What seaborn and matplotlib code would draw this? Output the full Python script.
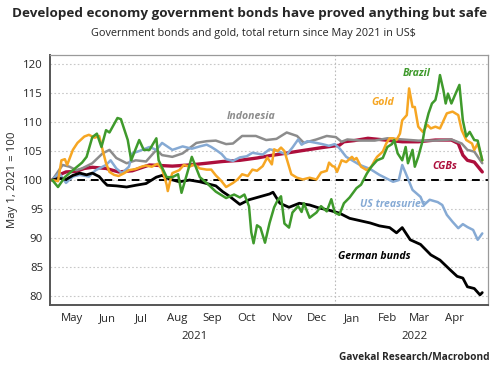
import pandas as pd
import matplotlib
matplotlib.use("Agg")
import matplotlib.pyplot as plt
import matplotlib.dates as mdates
import matplotlib.transforms as mtransforms
import seaborn as sns

# === Data (total return index, May 1 2021 = 100) ===
cgb_dates = ["2021-04-29", "2021-05-05", "2021-05-11", "2021-05-20", "2021-05-27", "2021-06-03",
             "2021-06-15", "2021-06-26", "2021-07-08", "2021-07-23", "2021-08-12", "2021-08-27",
             "2021-09-11", "2021-09-25", "2021-10-10", "2021-10-25", "2021-11-05", "2021-11-12",
             "2021-12-01", "2021-12-21", "2022-01-05", "2022-01-09", "2022-01-18", "2022-01-30",
             "2022-02-14", "2022-03-01", "2022-03-15", "2022-03-30", "2022-04-13", "2022-04-19",
             "2022-04-23", "2022-04-27", "2022-05-03", "2022-05-10"]
cgb_vals = [100, 100.9, 101.4, 101.5, 102.0, 102.2, 102.0, 101.4, 101.6, 102.6, 102.4, 102.6,
            102.9, 103.2, 103.4, 103.8, 104.2, 104.4, 105.0, 105.6, 106.0, 106.6, 106.8, 107.2,
            106.9, 106.6, 106.6, 106.9, 106.9, 106.3, 104.3, 103.4, 103.1, 101.4]

indo_dates = ["2021-04-29", "2021-05-08", "2021-05-14", "2021-05-20", "2021-05-25", "2021-06-03",
              "2021-06-12", "2021-06-18", "2021-06-24", "2021-07-03", "2021-07-11", "2021-07-20",
              "2021-07-29", "2021-08-03", "2021-08-12", "2021-08-21", "2021-08-27", "2021-09-02",
              "2021-09-11", "2021-09-19", "2021-09-28", "2021-10-04", "2021-10-12", "2021-10-24",
              "2021-11-02", "2021-11-11", "2021-11-20", "2021-11-29", "2021-12-05", "2021-12-16",
              "2021-12-25", "2022-01-02", "2022-01-07", "2022-01-12", "2022-01-24", "2022-02-05",
              "2022-02-16", "2022-03-01", "2022-03-15", "2022-03-30", "2022-04-13", "2022-04-22",
              "2022-04-27", "2022-05-03", "2022-05-10"]
indo_vals = [100, 102.6, 102.3, 101.7, 102.0, 102.9, 104.6, 105.2, 103.8, 102.9, 103.4, 103.2,
             105.2, 104.3, 104.0, 104.6, 105.5, 106.4, 106.7, 106.8, 106.2, 106.3, 107.6, 107.6,
             106.9, 107.1, 108.2, 107.6, 106.4, 107.0, 107.6, 107.4, 106.6, 107.0, 106.8, 106.8,
             107.2, 107.0, 106.8, 106.8, 107.0, 106.3, 105.2, 104.9, 102.9]

ust_dates = ["2021-04-29", "2021-05-05", "2021-05-11", "2021-05-17", "2021-05-23", "2021-05-31",
             "2021-06-06", "2021-06-15", "2021-06-19", "2021-06-24", "2021-06-29", "2021-07-05",
             "2021-07-08", "2021-07-14", "2021-07-23", "2021-07-29", "2021-08-03", "2021-08-12",
             "2021-08-21", "2021-08-29", "2021-09-05", "2021-09-11", "2021-09-15", "2021-09-19",
             "2021-09-24", "2021-09-28", "2021-10-04", "2021-10-10", "2021-10-16", "2021-10-21",
             "2021-10-30", "2021-11-05", "2021-11-12", "2021-11-20", "2021-11-25", "2021-11-30",
             "2021-12-03", "2021-12-08", "2021-12-16", "2021-12-21", "2021-12-27", "2022-01-01",
             "2022-01-05", "2022-01-11", "2022-01-23", "2022-02-01", "2022-02-09", "2022-02-21",
             "2022-02-26", "2022-03-01", "2022-03-04", "2022-03-10", "2022-03-17", "2022-03-20",
             "2022-03-25", "2022-04-01", "2022-04-05", "2022-04-09", "2022-04-14", "2022-04-19",
             "2022-04-23", "2022-04-27", "2022-05-02", "2022-05-06", "2022-05-10"]
ust_vals = [100, 101.2, 99.5, 100.6, 100.9, 100.6, 101.7, 102.6, 103.4, 102.0, 101.2, 102.3,
            104.6, 105.0, 105.7, 105.2, 106.4, 105.2, 105.8, 105.4, 105.8, 106.1, 105.7, 105.2,
            104.5, 103.6, 103.3, 103.9, 104.1, 104.7, 104.4, 105.3, 105.0, 104.4, 105.6, 107.0,
            106.1, 106.7, 106.4, 106.2, 105.9, 106.2, 105.5, 104.0, 102.6, 101.9, 100.9, 99.7,
            100.0, 102.6, 101.2, 98.3, 97.1, 95.7, 96.6, 96.2, 95.7, 94.0, 92.8, 91.7,
            92.4, 91.9, 91.4, 89.7, 90.8]

bund_dates = ["2021-04-29", "2021-05-05", "2021-05-11", "2021-05-17", "2021-05-23", "2021-05-29",
              "2021-06-03", "2021-06-09", "2021-06-13", "2021-06-16", "2021-06-24", "2021-07-03",
              "2021-07-11", "2021-07-20", "2021-07-29", "2021-08-03", "2021-08-09", "2021-08-18",
              "2021-08-27", "2021-09-05", "2021-09-11", "2021-09-19", "2021-09-25", "2021-10-01",
              "2021-10-10", "2021-10-18", "2021-10-27", "2021-11-05", "2021-11-08", "2021-11-14",
              "2021-11-22", "2021-12-01", "2021-12-10", "2021-12-18", "2021-12-27", "2022-01-05",
              "2022-01-14", "2022-01-23", "2022-02-01", "2022-02-09", "2022-02-18", "2022-02-24",
              "2022-03-01", "2022-03-08", "2022-03-17", "2022-03-26", "2022-04-03", "2022-04-12",
              "2022-04-18", "2022-04-23", "2022-04-27", "2022-05-03", "2022-05-08", "2022-05-10"]
bund_vals = [100, 100.3, 100.1, 100.8, 101.2, 100.9, 101.2, 100.6, 99.7, 99.1, 99.0, 98.8,
             99.1, 99.4, 100.5, 100.8, 100.2, 99.7, 100.0, 99.7, 99.4, 99.0, 98.0, 97.2,
             95.8, 96.6, 97.1, 97.6, 97.9, 96.0, 95.3, 96.0, 95.7, 95.2, 94.8, 94.3,
             93.4, 93.0, 92.6, 92.1, 91.8, 90.9, 91.8, 89.7, 88.9, 87.1, 86.2, 84.5,
             83.4, 83.1, 81.6, 81.3, 80.2, 80.6]

gold_dates = ["2021-04-29", "2021-05-04", "2021-05-07", "2021-05-10", "2021-05-12", "2021-05-17",
              "2021-05-21", "2021-05-27", "2021-05-31", "2021-06-05", "2021-06-09", "2021-06-12",
              "2021-06-15", "2021-06-18", "2021-06-22", "2021-06-26", "2021-07-01", "2021-07-05",
              "2021-07-11", "2021-07-16", "2021-07-20", "2021-07-25", "2021-07-30", "2021-08-03",
              "2021-08-07", "2021-08-08", "2021-08-11", "2021-08-12", "2021-08-18", "2021-08-22",
              "2021-08-27", "2021-08-31", "2021-09-05", "2021-09-11", "2021-09-15", "2021-09-19",
              "2021-09-24", "2021-09-28", "2021-10-04", "2021-10-08", "2021-10-12", "2021-10-17",
              "2021-10-21", "2021-10-25", "2021-10-30", "2021-11-03", "2021-11-07", "2021-11-09",
              "2021-11-12", "2021-11-15", "2021-11-18", "2021-11-21", "2021-11-24", "2021-11-29",
              "2021-12-04", "2021-12-10", "2021-12-16", "2021-12-20", "2021-12-25", "2021-12-27",
              "2021-12-30", "2022-01-01", "2022-01-03", "2022-01-07", "2022-01-11", "2022-01-16",
              "2022-01-18", "2022-01-20", "2022-01-24", "2022-01-29", "2022-02-02", "2022-02-05",
              "2022-02-07", "2022-02-12", "2022-02-15", "2022-02-18", "2022-02-21", "2022-02-24",
              "2022-02-27", "2022-03-01", "2022-03-05", "2022-03-07", "2022-03-10", "2022-03-12",
              "2022-03-15", "2022-03-19", "2022-03-23", "2022-03-26", "2022-03-30", "2022-04-03",
              "2022-04-09", "2022-04-14", "2022-04-19", "2022-04-22", "2022-04-26", "2022-05-01",
              "2022-05-03", "2022-05-06", "2022-05-10"]
gold_vals = [100, 99.8, 103.4, 103.6, 102.6, 105.2, 106.4, 107.5, 107.8, 107.3, 107.6, 105.2,
             102.9, 101.4, 100.9, 100.7, 101.2, 101.7, 101.9, 102.3, 102.5, 102.3, 102.8, 101.9,
             99.2, 98.1, 100.6, 101.2, 101.7, 102.6, 102.3, 102.7, 102.0, 101.8, 101.8, 100.8,
             99.8, 98.8, 99.5, 100.1, 101.0, 100.7, 101.8, 101.6, 102.4, 103.9, 102.7, 105.3,
             105.0, 105.6, 105.0, 103.0, 101.0, 100.4, 100.1, 100.4, 100.1, 101.3, 101.6, 103.0,
             102.4, 102.3, 101.4, 103.4, 103.1, 104.0, 103.5, 103.8, 102.3, 101.7, 102.3, 103.4,
             104.0, 104.9, 106.3, 107.2, 107.2, 106.9, 108.0, 110.3, 111.2, 115.8, 112.6, 112.6,
             109.2, 108.3, 109.5, 108.9, 109.2, 108.9, 111.5, 111.8, 111.2, 108.6, 106.9, 106.3,
             105.2, 106.3, 103.4]

brazil_dates = ["2021-04-29", "2021-05-04", "2021-05-10", "2021-05-17", "2021-05-25", "2021-05-29",
                "2021-06-03", "2021-06-07", "2021-06-11", "2021-06-15", "2021-06-18", "2021-06-25",
                "2021-06-28", "2021-07-04", "2021-07-07", "2021-07-14", "2021-07-18", "2021-07-23",
                "2021-07-29", "2021-07-31", "2021-08-07", "2021-08-12", "2021-08-17", "2021-08-20",
                "2021-08-25", "2021-08-29", "2021-09-05", "2021-09-11", "2021-09-19", "2021-09-28",
                "2021-10-05", "2021-10-10", "2021-10-14", "2021-10-18", "2021-10-20", "2021-10-22",
                "2021-10-25", "2021-10-28", "2021-11-01", "2021-11-05", "2021-11-09", "2021-11-12",
                "2021-11-15", "2021-11-18", "2021-11-22", "2021-11-25", "2021-11-30", "2021-12-03",
                "2021-12-05", "2021-12-10", "2021-12-16", "2021-12-20", "2021-12-25", "2021-12-29",
                "2022-01-01", "2022-01-05", "2022-01-09", "2022-01-14", "2022-01-20", "2022-01-24",
                "2022-01-29", "2022-02-02", "2022-02-07", "2022-02-12", "2022-02-16", "2022-02-20",
                "2022-02-22", "2022-02-25", "2022-03-01", "2022-03-04", "2022-03-06", "2022-03-10",
                "2022-03-12", "2022-03-15", "2022-03-19", "2022-03-21", "2022-03-24", "2022-03-27",
                "2022-03-30", "2022-04-01", "2022-04-03", "2022-04-06", "2022-04-08", "2022-04-10",
                "2022-04-13", "2022-04-16", "2022-04-20", "2022-04-23", "2022-04-26", "2022-04-29",
                "2022-05-03", "2022-05-06", "2022-05-10"]
brazil_vals = [100, 98.8, 100.5, 101.7, 103.0, 104.0, 107.4, 108.0, 105.7, 108.6, 108.2, 110.7,
               110.5, 106.9, 103.4, 106.9, 105.2, 105.2, 107.2, 103.4, 100.5, 100.5, 101.0, 97.8,
               101.2, 104.0, 100.5, 99.5, 98.0, 96.9, 97.5, 97.0, 97.5, 95.5, 91.0, 89.1,
               92.2, 91.8, 89.2, 92.6, 95.3, 96.5, 97.2, 92.5, 91.8, 94.4, 95.5, 94.5,
               96.0, 93.5, 94.4, 95.5, 94.6, 96.7, 94.4, 94.0, 96.0, 97.0, 98.6, 99.2,
               101.1, 102.3, 103.4, 103.8, 105.7, 106.2, 106.9, 104.6, 103.4, 105.7, 102.9, 105.2,
               102.3, 104.0, 106.9, 109.2, 111.5, 113.2, 113.8, 115.5, 118.1, 115.5, 113.2, 114.9,
               113.2, 114.6, 116.4, 110.3, 107.5, 108.3, 106.9, 106.8, 103.4]

series_names = ["CGBs", "Indonesia", "US treasuries", "German bunds", "Gold", "Brazil"]
series_dates = [cgb_dates, indo_dates, ust_dates, bund_dates, gold_dates, brazil_dates]
series_vals = [cgb_vals, indo_vals, ust_vals, bund_vals, gold_vals, brazil_vals]
colors = {"CGBs": "#ad0f3c", "Indonesia": "#8c8c8c", "US treasuries": "#86aad4",
          "German bunds": "#000000", "Gold": "#f6a623", "Brazil": "#3f9a2c"}
widths = {"CGBs": 2.4, "Indonesia": 1.8, "US treasuries": 1.8,
          "German bunds": 2.0, "Gold": 1.8, "Brazil": 1.8}

# label anchors (date, value) for the in-chart series names
label_pos = {"Indonesia": ("2021-10-20", 111.0), "Brazil": ("2022-03-14", 118.3),
             "Gold": ("2022-02-12", 113.4), "CGBs": ("2022-04-07", 102.4),
             "US treasuries": ("2022-02-21", 95.7), "German bunds": ("2022-02-05", 86.9)}

frames = []
for name, d, v in zip(series_names, series_dates, series_vals):
    frames.append(pd.DataFrame({"date": pd.to_datetime(d), "value": v, "series": name}))
df = pd.concat(frames, ignore_index=True)

sns.set_style("white")
plt.rcParams['font.family'] = ['Open Sans', 'DejaVu Sans']

fig = plt.figure(figsize=(5, 3.72), dpi=100)
ax = fig.add_axes([0.10, 0.18, 0.876, 0.672])

ax.axhline(100, color="black", lw=1.4, ls=(0, (4, 3)), zorder=2)
ax.axvline(pd.Timestamp("2022-01-01"), color="#bbbbbb", lw=0.8, ls=(0, (1.5, 2)), zorder=1)

for name in series_names:
    sns.lineplot(data=df[df["series"] == name], x="date", y="value", color=colors[name],
                 lw=widths[name], ax=ax, zorder=3)

for name, (d, v) in label_pos.items():
    ax.text(pd.Timestamp(d), v, name, color=colors[name], fontsize=7.6, style="italic",
            fontweight="bold", ha="center", va="center")

# axes, ticks
ax.set_xlim(pd.Timestamp("2021-04-27"), pd.Timestamp("2022-05-15"))
ax.set_ylim(78.45, 121.55)
ax.set_yticks(range(80, 121, 5))
ax.yaxis.grid(True, color="#c8c8c8", ls=(0, (1.5, 2)), lw=0.8)
ax.set_axisbelow(True)
ax.set_xlabel("")
ax.set_ylabel("May 1, 2021 = 100", fontsize=8.2, labelpad=4)

ax.xaxis.set_major_locator(mdates.MonthLocator())
ax.xaxis.set_major_formatter(plt.NullFormatter())
ax.xaxis.set_minor_locator(mdates.MonthLocator(bymonthday=16))
ax.xaxis.set_minor_formatter(mdates.DateFormatter("%b"))
ax.tick_params(axis="x", which="major", length=3, width=1, color="#555555", direction="out")
ax.tick_params(axis="x", which="minor", length=0, labelsize=8.2, pad=6)
ax.tick_params(axis="y", length=3, width=1, color="#555555", labelsize=8.2, pad=2)
for tk, loc in zip(ax.xaxis.get_major_ticks(), ax.xaxis.get_majorticklocs()):
    if mdates.num2date(loc).month == 1:
        tk.tick1line.set_markersize(7)

for side in ["left", "bottom"]:
    ax.spines[side].set_color("#555555")
    ax.spines[side].set_linewidth(1.4)
for side in ["top", "right"]:
    ax.spines[side].set_color("#9a9a9a")
    ax.spines[side].set_linewidth(0.9)

trans = mtransforms.blended_transform_factory(ax.transData, ax.transAxes)
ax.text(pd.Timestamp("2021-08-31"), -0.125, "2021", transform=trans, ha="center", va="center",
        fontsize=8.2)
ax.text(pd.Timestamp("2022-03-12"), -0.125, "2022", transform=trans, ha="center", va="center",
        fontsize=8.2)

fig.text(0.5, 0.965, "Developed economy government bonds have proved anything but safe",
         ha="center", va="center", fontsize=9.7, fontweight="bold")
fig.text(0.507, 0.91, "Government bonds and gold, total return since May 2021 in US$",
         ha="center", va="center", fontsize=7.8)
fig.text(0.98, 0.04, "Gavekal Research/Macrobond", ha="right", va="center",
         fontsize=7.3, fontweight="bold")

fig.savefig("out.png", dpi=100)
